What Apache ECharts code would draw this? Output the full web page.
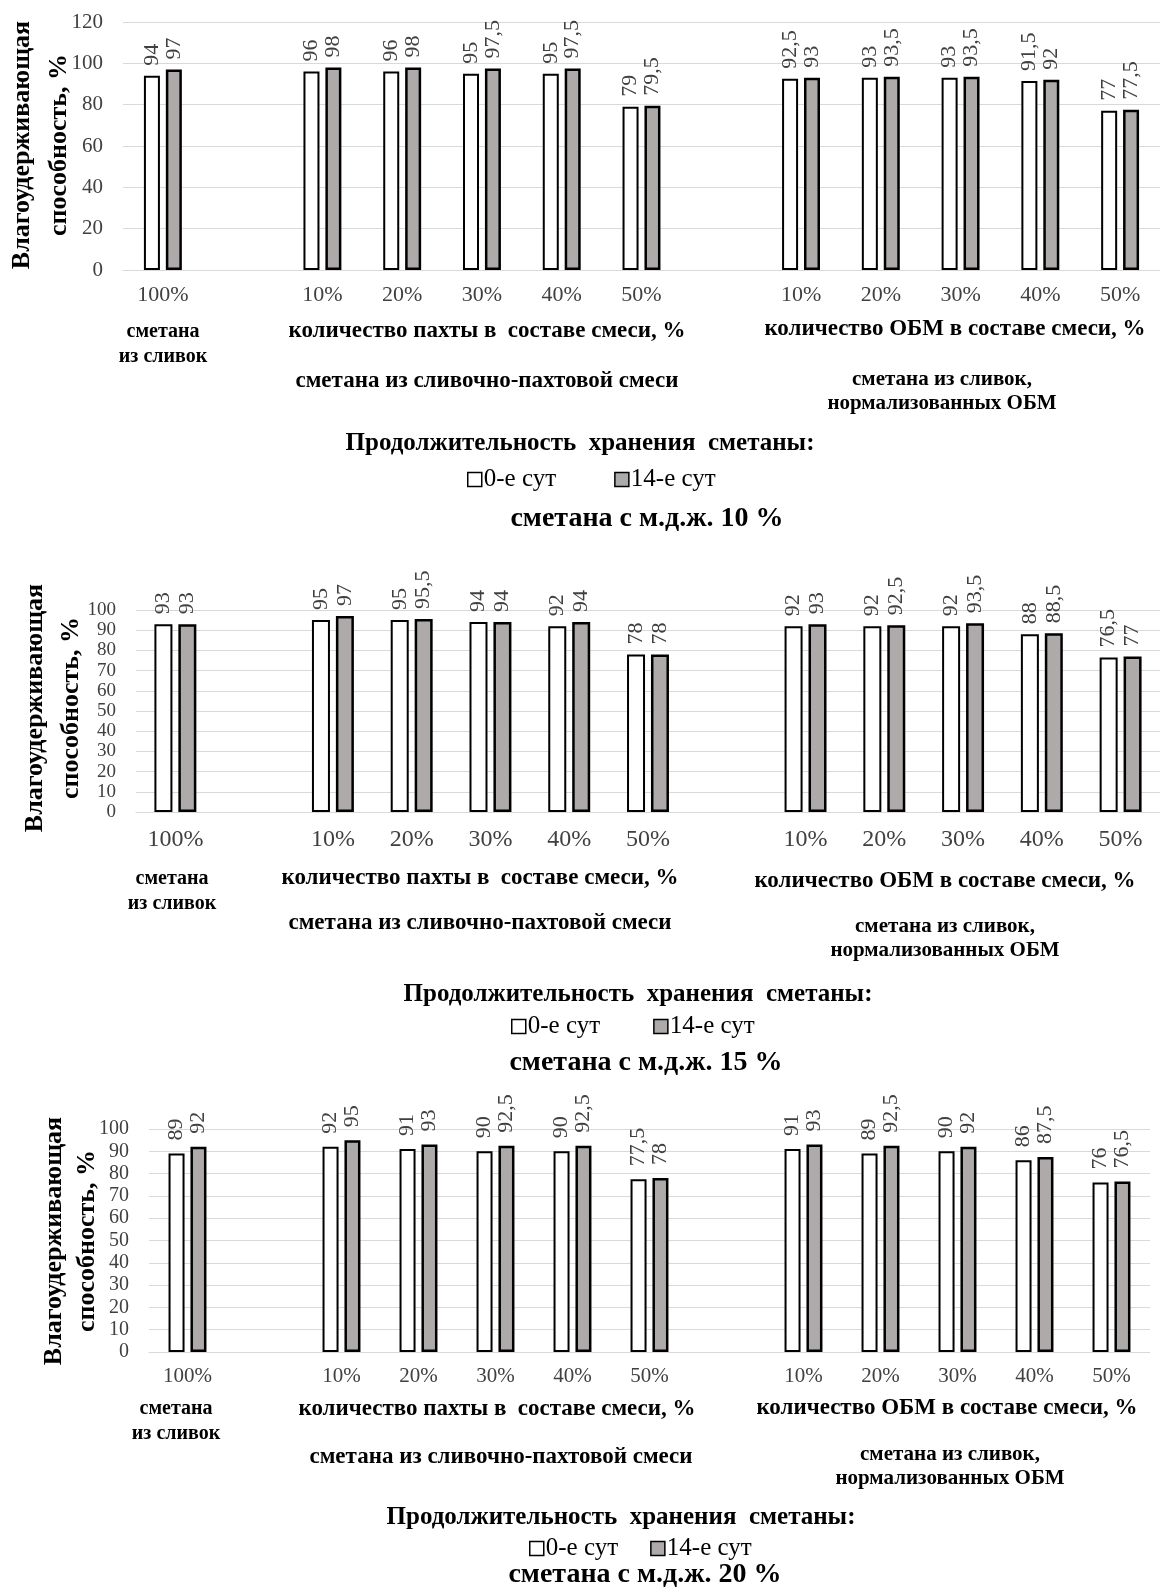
<!DOCTYPE html>
<html>
<head>
<meta charset="utf-8">
<script src="https://cdn.jsdelivr.net/npm/echarts@6/dist/echarts.min.js"></script>
<style>
  body { margin: 0; background: #fff; }
  #container { width: 1160px; height: 1587px; }
</style>
</head>
<body>
<div id="container"></div>
<script>
// ---- data ----
var categories = ['100%', '', '10%', '20%', '30%', '40%', '50%', ' ', '10%', '20%', '30%', '40%', '50%'];
var seriesNames = ['0-е сут', '14-е сут'];

// сметана с м.д.ж. 10 %
var fat10Day0 = [94, null, 96, 96, 95, 95, 79, null, 92.5, 93, 93, 91.5, 77];
var fat10Day14 = [97, null, 98, 98, 97.5, 97.5, 79.5, null, 93, 93.5, 93.5, 92, 77.5];
// сметана с м.д.ж. 15 %
var fat15Day0 = [93, null, 95, 95, 94, 92, 78, null, 92, 92, 92, 88, 76.5];
var fat15Day14 = [93, null, 97, 95.5, 94, 94, 78, null, 93, 92.5, 93.5, 88.5, 77];
// сметана с м.д.ж. 20 %
var fat20Day0 = [89, null, 92, 91, 90, 90, 77.5, null, 91, 89, 90, 86, 76];
var fat20Day14 = [92, null, 95, 93, 92.5, 92.5, 78, null, 93, 92.5, 92, 87.5, 76.5];

var yMax = [120, 100, 100];
var yInterval = [20, 10, 10];
var chartTitles = ['сметана с м.д.ж. 10 %', 'сметана с м.д.ж. 15 %', 'сметана с м.д.ж. 20 %'];

var yName = 'Влагоудерживающая\nспособность, %';
var groupCream = 'сметана\nиз сливок';
var groupButtermilkAmount = 'количество пахты в  составе смеси, %';
var groupButtermilk = 'сметана из сливочно-пахтовой смеси';
var groupSmrAmount = 'количество ОБМ в составе смеси, %';
var groupSmr = 'сметана из сливок,\nнормализованных ОБМ';
var storageTitle = 'Продолжительность  хранения  сметаны:';

var dataSets = [[fat10Day0, fat10Day14], [fat15Day0, fat15Day14], [fat20Day0, fat20Day14]];

// ---- layout of the three panels ----
var FONT = '"Liberation Serif", "Times New Roman", serif';
var panels = [
  { top: 22, height: 248, left: 123, right: 0, yFont: 21, xFont: 22, xMargin: 14, barWidth: 16, barGap: '37%', labelDist: 10,
    nameX: 41, nameY: 145, nameLH: 37,
    cream: [163, 344], bmAmount: [487, 331], bm: [487, 381], smrAmount: [955, 329], smr: [942, 392],
    storage: [580, 444], legendLeft: 462, legendTop: 462, legendGap: 58, title: [647, 519] },
  { top: 610, height: 202, left: 136, right: 0, yFont: 19, xFont: 24, xMargin: 16, barWidth: 18, barGap: '33%', labelDist: 10,
    nameX: 53, nameY: 708, nameLH: 36,
    cream: [172, 891], bmAmount: [480, 878], bm: [480, 923], smrAmount: [945, 881], smr: [945, 939],
    storage: [638, 995], legendLeft: 506, legendTop: 1009, legendGap: 53, title: [646, 1063] },
  { top: 1129, height: 223, left: 149, right: 10, yFont: 20, xFont: 21, xMargin: 14, barWidth: 16, barGap: '37%', labelDist: 13,
    nameX: 71, nameY: 1241, nameLH: 33,
    cream: [176, 1421], bmAmount: [497, 1409], bm: [501, 1457], smrAmount: [947, 1408], smr: [950, 1467],
    storage: [621, 1518], legendLeft: 524, legendTop: 1531, legendGap: 32, title: [645, 1575] }
];

var dom = document.getElementById('container');
var myChart = echarts.init(dom);

var commaLabel = function (p) {
  return String(p.value).replace('.', ',');
};

var boldText = function (text, pos, size, lh) {
  return {
    type: 'text',
    x: pos[0],
    y: pos[1],
    style: {
      text: text,
      fontFamily: FONT,
      fontSize: size,
      fontWeight: 'bold',
      lineHeight: lh || size + 4,
      fill: '#000',
      align: 'center',
      verticalAlign: 'middle'
    }
  };
};

var grids = [], xAxes = [], yAxes = [], series = [], legends = [], graphics = [];

panels.forEach(function (p, i) {
  grids.push({ left: p.left, right: p.right, top: p.top, height: p.height, containLabel: false });

  xAxes.push({
    type: 'category',
    gridIndex: i,
    data: categories,
    axisLine: { lineStyle: { color: '#d9d9d9', width: 1 } },
    axisTick: { show: false },
    axisLabel: { interval: 0, margin: p.xMargin, fontSize: p.xFont, fontFamily: FONT, color: '#404040' }
  });

  yAxes.push({
    type: 'value',
    gridIndex: i,
    min: 0,
    max: yMax[i],
    interval: yInterval[i],
    axisLine: { show: false },
    axisTick: { show: false },
    splitLine: { lineStyle: { color: '#d9d9d9', width: 1 } },
    axisLabel: {
      margin: 20, fontSize: p.yFont, lineHeight: 16, fontFamily: FONT, color: '#404040',
      showMinLabel: true, showMaxLabel: true, hideOverlap: false
    }
  });

  [0, 1].forEach(function (k) {
    series.push({
      name: seriesNames[k],
      type: 'bar',
      xAxisIndex: i,
      yAxisIndex: i,
      data: dataSets[i][k],
      barWidth: p.barWidth,
      barGap: p.barGap,
      itemStyle: {
        color: k === 0 ? '#ffffff' : '#aeaaaa',
        borderColor: '#000',
        borderWidth: k === 0 ? 2 : 2.5
      },
      label: {
        show: true,
        position: 'top',
        rotate: 90,
        align: 'left',
        verticalAlign: 'middle',
        distance: p.labelDist,
        fontSize: 22,
        fontFamily: FONT,
        color: '#404040',
        formatter: commaLabel
      }
    });
  });

  legends.push({
    data: seriesNames,
    left: p.legendLeft,
    top: p.legendTop,
    itemWidth: 14,
    itemHeight: 14,
    itemGap: p.legendGap,
    icon: 'rect',
    selectedMode: false,
    itemStyle: { borderColor: '#000', borderWidth: 1.5 },
    textStyle: { fontSize: 25, fontFamily: FONT, color: '#000', padding: [0, 0, 0, -3] }
  });

  // y axis name, rotated
  graphics.push({
    type: 'text',
    x: p.nameX,
    y: p.nameY,
    rotation: Math.PI / 2,
    style: {
      text: yName,
      fontFamily: FONT,
      fontSize: 26,
      fontWeight: 'bold',
      lineHeight: p.nameLH,
      fill: '#000',
      align: 'center',
      verticalAlign: 'middle'
    }
  });

  graphics.push(boldText(groupCream, p.cream, 20, 25));
  graphics.push(boldText(groupButtermilkAmount, p.bmAmount, 23));
  graphics.push(boldText(groupButtermilk, p.bm, 23));
  graphics.push(boldText(groupSmrAmount, p.smrAmount, 23));
  graphics.push(boldText(groupSmr, p.smr, 21, 24));
  graphics.push(boldText(storageTitle, p.storage, 25));
  graphics.push(boldText(chartTitles[i], p.title, 28));
});

option = {
  backgroundColor: '#fff',
  animation: false,
  textStyle: { fontFamily: FONT },
  grid: grids,
  xAxis: xAxes,
  yAxis: yAxes,
  legend: legends,
  graphic: graphics,
  series: series
};

if (option && typeof option === 'object') {
  myChart.setOption(option, true);
}
</script>
</body>
</html>
